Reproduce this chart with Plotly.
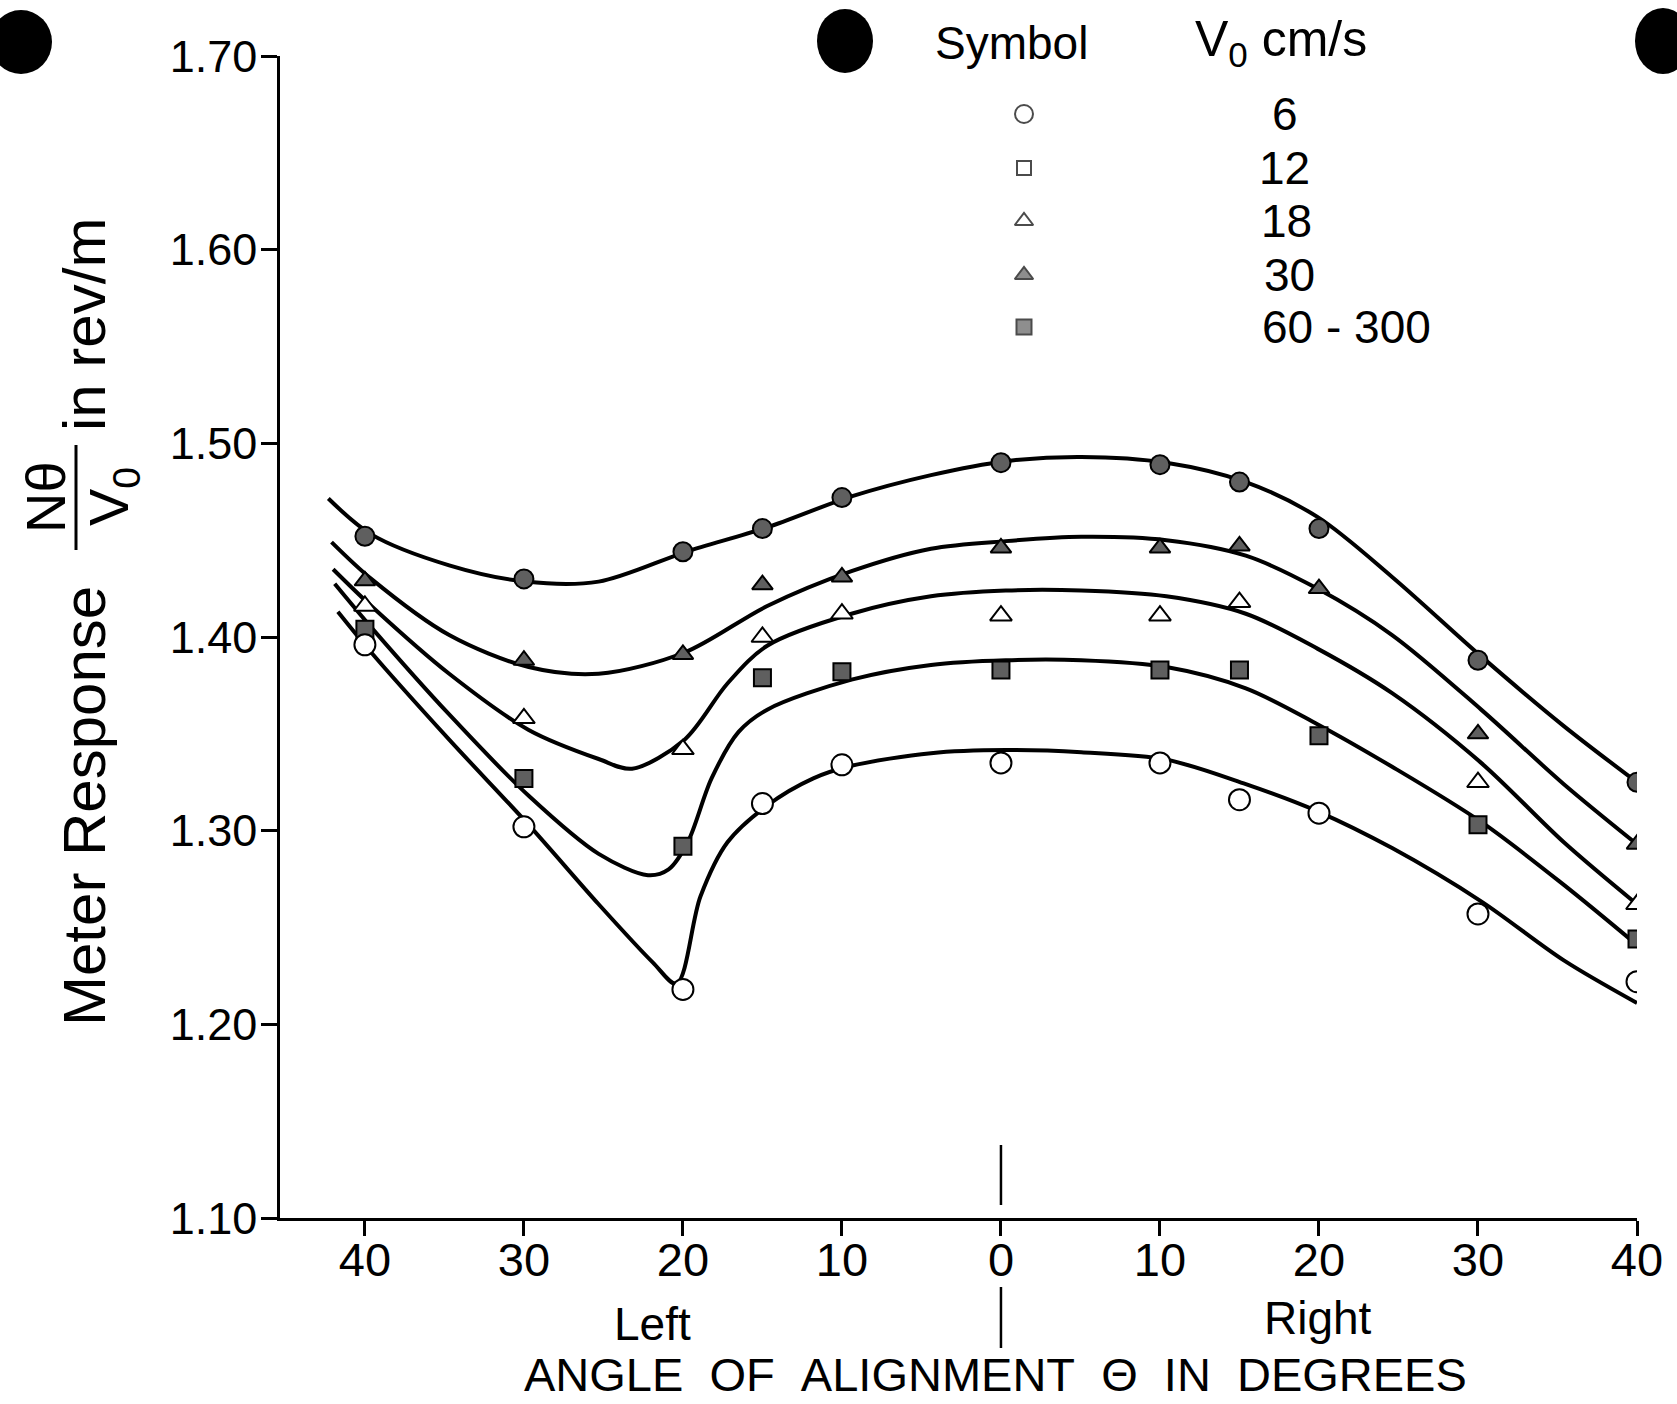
import plotly.graph_objects as go

# ---- canvas / plot-area geometry (pixels) ----
W, H = 1677, 1404
ML, MR, MT, MB = 280, 40, 56, 186
PW, PH = W - ML - MR, H - MT - MB

FONT = "Liberation Sans, Arial, Helvetica, sans-serif"

# ---- axis ticks ----
x_tickvals = [-40, -30, -20, -10, 0, 10, 20, 30, 40]
x_ticktext = ["40", "30", "20", "10", "0", "10", "20", "30", "40"]
y_tickvals = [1.10, 1.20, 1.30, 1.40, 1.50, 1.60, 1.70]
y_ticktext = ["1.10", "1.20", "1.30", "1.40", "1.50", "1.60", "1.70"]

# ---- measured meter response (left angles negative) ----
angles = [-40, -30, -20, -15, -10, 0, 10, 15, 20, 30, 40]
resp_60_300 = [1.452, 1.430, 1.444, 1.456, 1.472, 1.490, 1.489, 1.480, 1.456, 1.388, 1.325]
resp_30 = [1.429, 1.388, 1.391, 1.427, 1.431, 1.446, 1.446, 1.447, 1.425, 1.350, 1.293]
angles_18 = [-40, -30, -20, -15, -10, 0, 10, 15, 30, 40]
resp_18 = [1.416, 1.358, 1.342, 1.400, 1.412, 1.411, 1.411, 1.418, 1.325, 1.262]
resp_12 = [1.404, 1.327, 1.292, 1.379, 1.382, 1.383, 1.383, 1.383, 1.349, 1.303, 1.244]
resp_6 = [1.396, 1.302, 1.218, 1.314, 1.334, 1.335, 1.335, 1.316, 1.309, 1.257, 1.222]

# ---- faired curves through the data ----
fit_60_300_x = [-42.3, -39.6, -34.7, -29.9, -25.3, -19.8, -14.7, -9.4, -4.4, 0.3, 5.05, 10.4, 15.4, 19.9, 24.6, 30.2, 35.4, 40]
fit_60_300_y = [1.4715, 1.453, 1.437, 1.4286, 1.4286, 1.444, 1.4566, 1.4726, 1.4836, 1.4908, 1.493, 1.490, 1.480, 1.462, 1.431, 1.390, 1.354, 1.325]

fit_30_x = [-42.1, -39.6, -34.7, -29.7, -25.3, -19.9, -14.7, -9.4, -4.4, 0.3, 5.05, 10.4, 15.4, 19.9, 24.6, 30.2, 35.4, 40]
fit_30_y = [1.449, 1.430, 1.401, 1.3845, 1.381, 1.392, 1.416, 1.434, 1.4456, 1.4495, 1.4517, 1.450, 1.442, 1.425, 1.401, 1.3625, 1.324, 1.293]

fit_18_x = [-42.0, -39.6, -34.7, -29.7, -25.3, -23.2, -19.9, -17.2, -14.7, -9.4, -4.4, 0.3, 5.05, 10.4, 15.4, 19.9, 24.6, 30.2, 35.4, 40]
fit_18_y = [1.435, 1.416, 1.381, 1.352, 1.337, 1.332, 1.347, 1.376, 1.3955, 1.412, 1.421, 1.424, 1.424, 1.421, 1.412, 1.394, 1.371, 1.335, 1.294, 1.262]

fit_12_x = [-41.9, -39.6, -34.7, -29.7, -25.3, -22.2, -20.9, -19.7, -18.2, -16.5, -14.7, -9.4, -4.4, 0.3, 5.05, 10.4, 15.4, 19.9, 24.6, 30.2, 35.4, 40]
fit_12_y = [1.4275, 1.405, 1.360, 1.318, 1.288, 1.277, 1.280, 1.294, 1.327, 1.351, 1.3625, 1.378, 1.3856, 1.388, 1.388, 1.3845, 1.3735, 1.355, 1.333, 1.3045, 1.272, 1.241]

fit_6_x = [-41.7, -39.6, -34.7, -29.7, -25.3, -21.9, -20.4, -18.9, -17.2, -14.7, -11.8, -9.4, -4.4, 0.3, 5.05, 10.4, 15.4, 19.9, 24.6, 30.2, 35.4, 40]
fit_6_y = [1.413, 1.392, 1.347, 1.303, 1.262, 1.232, 1.221, 1.266, 1.294, 1.313, 1.327, 1.3335, 1.340, 1.3416, 1.3405, 1.3367, 1.324, 1.310, 1.291, 1.2635, 1.233, 1.211]

# ---- key entries ----
key_labels = ["6", "12", "18", "30", "60 - 300"]


def px_x(p):
    return (p - ML) / PW


def px_y(p):
    return (H - MB - p) / PH


SHADE = "#5f5f5f"
fig = go.Figure()

curves = [
    (fit_60_300_x, fit_60_300_y),
    (fit_30_x, fit_30_y),
    (fit_18_x, fit_18_y),
    (fit_12_x, fit_12_y),
    (fit_6_x, fit_6_y),
]
for cx, cy in curves:
    fig.add_trace(go.Scatter(
        x=cx, y=cy, mode="lines",
        line=dict(color="black", width=4, shape="spline", smoothing=0.9),
        hoverinfo="skip", showlegend=False,
    ))

points = [
    (angles, resp_60_300, "circle", SHADE, 19),
    (angles, resp_30, "triangle-up", SHADE, 18),
    (angles_18, resp_18, "triangle-up", "white", 19),
    (angles, resp_12, "square", SHADE, 17),
    (angles, resp_6, "circle", "white", 21),
]
for px_, py_, sym, fill, size in points:
    fig.add_trace(go.Scatter(
        x=px_, y=py_, mode="markers",
        marker=dict(symbol=sym, size=size, color=fill, line=dict(color="black", width=2)),
        showlegend=False,
    ))

# key symbols, drawn on a pixel-scaled overlay axis
key_x = 1024
key_rows = [114, 168, 221, 275, 327]
key_syms = ["circle", "square", "triangle-up", "triangle-up", "square"]
key_fill = ["white", "white", "white", SHADE, SHADE]
key_size = [18, 14, 16, 16, 15]
fig.add_trace(go.Scatter(
    x=[key_x] * len(key_rows), y=key_rows, mode="markers",
    xaxis="x2", yaxis="y2",
    marker=dict(symbol=key_syms, size=key_size, color=key_fill, line=dict(color="black", width=2)),
    showlegend=False, hoverinfo="skip",
))

annotations = []
# key header and entries
annotations.append(dict(x=px_x(1011), y=px_y(43), text="Symbol", showarrow=False,
                        xref="paper", yref="paper", xanchor="center", yanchor="middle",
                        font=dict(size=46, color="black", family=FONT)))
annotations.append(dict(x=px_x(1193), y=px_y(43), text="V<sub>0</sub> cm/s", showarrow=False,
                        xref="paper", yref="paper", xanchor="left", yanchor="middle",
                        font=dict(size=50, color="black", family=FONT)))
key_text_x = [1270, 1257, 1259, 1262, 1260]
for lbl, tx, ty in zip(key_labels, key_text_x, key_rows):
    annotations.append(dict(x=px_x(tx), y=px_y(ty), text=lbl, showarrow=False,
                            xref="paper", yref="paper", xanchor="left", yanchor="middle",
                            font=dict(size=46, color="black", family=FONT)))

# axis side labels and title
annotations.append(dict(x=px_x(652), y=px_y(1324), text="Left", showarrow=False,
                        xref="paper", yref="paper", xanchor="center", yanchor="middle",
                        font=dict(size=46, color="black", family=FONT)))
annotations.append(dict(x=px_x(1318), y=px_y(1318), text="Right", showarrow=False,
                        xref="paper", yref="paper", xanchor="center", yanchor="middle",
                        font=dict(size=46, color="black", family=FONT)))
annotations.append(dict(x=px_x(995), y=px_y(1374),
                        text="ANGLE\u00a0\u00a0OF\u00a0\u00a0ALIGNMENT\u00a0\u00a0\u0398\u00a0\u00a0IN\u00a0\u00a0DEGREES",
                        showarrow=False, xref="paper", yref="paper", xanchor="center", yanchor="middle",
                        font=dict(size=47, color="black", family=FONT)))

# rotated y-axis title: Meter Response  (N_theta / V_0)  in rev/m
annotations.append(dict(x=px_x(84), y=px_y(806), text="Meter Response", textangle=-90, showarrow=False,
                        xref="paper", yref="paper", xanchor="center", yanchor="middle",
                        font=dict(size=60, color="black", family=FONT)))
annotations.append(dict(x=px_x(46), y=px_y(497), text="N\u03b8", textangle=-90, showarrow=False,
                        xref="paper", yref="paper", xanchor="center", yanchor="middle",
                        font=dict(size=56, color="black", family=FONT)))
annotations.append(dict(x=px_x(113), y=px_y(497), text="V<sub>0</sub>", textangle=-90, showarrow=False,
                        xref="paper", yref="paper", xanchor="center", yanchor="middle",
                        font=dict(size=56, color="black", family=FONT)))
annotations.append(dict(x=px_x(84), y=px_y(325), text="in rev/m", textangle=-90, showarrow=False,
                        xref="paper", yref="paper", xanchor="center", yanchor="middle",
                        font=dict(size=60, color="black", family=FONT)))

shapes = []
# fraction bar of the y title
shapes.append(dict(type="line", xref="paper", yref="paper",
                   x0=px_x(76), x1=px_x(76), y0=px_y(445), y1=px_y(550),
                   line=dict(color="black", width=3)))
# left/right divider at zero angle
for y0, y1 in [(1145, 1205), (1287, 1348)]:
    shapes.append(dict(type="line", xref="x", yref="paper", x0=0, x1=0,
                       y0=px_y(y0), y1=px_y(y1), line=dict(color="black", width=2.5)))
# binder punch holes along the top edge
for cx, cy, rx, ry in [(21, 42, 31, 32), (845, 41, 28, 32), (1663, 41, 28, 33)]:
    shapes.append(dict(type="circle", xref="paper", yref="paper",
                       x0=px_x(cx - rx), x1=px_x(cx + rx), y0=px_y(cy + ry), y1=px_y(cy - ry),
                       fillcolor="black", line=dict(color="black", width=0)))

fig.update_layout(
    width=W, height=H,
    margin=dict(l=ML, r=MR, t=MT, b=MB, pad=0),
    paper_bgcolor="white", plot_bgcolor="white",
    font=dict(family=FONT, color="black"),
    showlegend=False,
    xaxis=dict(
        range=[-45.34, 40], tickvals=x_tickvals, ticktext=x_ticktext,
        showgrid=False, zeroline=False, showline=True, linecolor="black", linewidth=3,
        ticks="outside", ticklen=15, tickwidth=2.5, tickcolor="black",
        tickfont=dict(size=47, color="black", family=FONT), ticklabelstandoff=-16,
    ),
    yaxis=dict(
        range=[1.10, 1.70], tickvals=y_tickvals, ticktext=y_ticktext,
        showgrid=False, zeroline=False, showline=True, linecolor="black", linewidth=2.5,
        ticks="outside", ticklen=16, tickwidth=2.5, tickcolor="black",
        tickfont=dict(size=45, color="black", family=FONT), ticklabelstandoff=-5,
    ),
    xaxis2=dict(overlaying="x", range=[ML, W - MR], visible=False),
    yaxis2=dict(overlaying="y", range=[H - MB, MT], visible=False),
    annotations=annotations,
    shapes=shapes,
)

fig.write_html("out.html")
